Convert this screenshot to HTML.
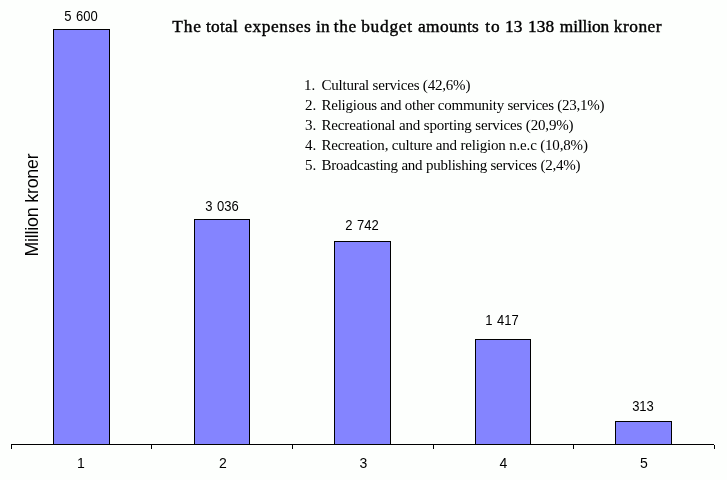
<!DOCTYPE html>
<html>
<head>
<meta charset="utf-8">
<title>Expenses chart</title>
<style>
html,body{margin:0;padding:0;background:#fdfffd;}
body{width:727px;height:480px;position:relative;overflow:hidden;font-family:"Liberation Sans",sans-serif;color:#000;}
.bar{position:absolute;box-sizing:border-box;background:#8484ff;border:1px solid #000;}
.axis{position:absolute;background:#000;}
.val{position:absolute;font-size:14px;transform:scaleX(0.93);word-spacing:0.8px;line-height:14px;height:14px;white-space:nowrap;text-align:center;width:80px;}
.cat{position:absolute;font-size:14px;line-height:14px;height:14px;white-space:nowrap;text-align:center;width:40px;}
#title{position:absolute;left:0;top:17px;width:727px;height:20px;font-family:"Liberation Serif",serif;font-weight:normal;font-size:17.33px;line-height:20px;white-space:nowrap;-webkit-text-stroke:0.4px #000;}
#title span{position:absolute;top:0;}
.leg{position:absolute;left:305px;font-family:"Liberation Serif",serif;font-size:15px;line-height:20px;height:20px;white-space:pre;}
.leg b{font-weight:normal;position:absolute;left:16.5px;top:0;text-indent:0;}
#ylab{position:absolute;left:0;top:0;font-size:17.8px;line-height:17px;letter-spacing:-0.2px;white-space:nowrap;transform-origin:0 0;transform:translate(24px,256.5px) rotate(-90deg);}
</style>
</head>
<body>
<div id="title"><span style="left:172.2px;letter-spacing:0.95px">The</span> <span style="left:205.9px;letter-spacing:0.275px">total</span> <span style="left:244.3px;letter-spacing:0.543px">expenses</span> <span style="left:315.9px;letter-spacing:0.4px">in</span> <span style="left:333.7px;letter-spacing:0.65px">the</span> <span style="left:361.2px;letter-spacing:0.74px">budget</span> <span style="left:418.05px;letter-spacing:0.342px">amounts</span> <span style="left:485.2px;letter-spacing:1.0px">to</span> <span style="left:505.0px;letter-spacing:0.1px">13</span> <span style="left:527.9px;letter-spacing:0.2px">138</span> <span style="left:559.8px;letter-spacing:-0.1px">million</span> <span style="left:613.8px;letter-spacing:0.5px">kroner</span></div>

<div class="leg" id="l1" style="top:75px;text-indent:-1px">1. <b id="n1" style="letter-spacing:-0.2px">Cultural services (42,6%)</b></div>
<div class="leg" id="l2" style="top:95px">2. <b id="n2" style="letter-spacing:-0.245px">Religious and other community services (23,1%)</b></div>
<div class="leg" id="l3" style="top:115px">3. <b id="n3" style="letter-spacing:-0.16px">Recreational and sporting services (20,9%)</b></div>
<div class="leg" id="l4" style="top:135px">4. <b id="n4" style="letter-spacing:-0.18px">Recreation, culture and religion n.e.c (10,8%)</b></div>
<div class="leg" id="l5" style="top:155px">5. <b id="n5" style="letter-spacing:-0.23px">Broadcasting and publishing services (2,4%)</b></div>

<div id="ylab">Million kroner</div>

<div class="bar" style="left:53px;top:29px;width:57px;height:416px"></div>
<div class="bar" style="left:194px;top:219px;width:56px;height:226px"></div>
<div class="bar" style="left:334px;top:241px;width:57px;height:204px"></div>
<div class="bar" style="left:475px;top:339px;width:56px;height:106px"></div>
<div class="bar" style="left:615px;top:421px;width:57px;height:24px"></div>

<div class="val" id="v1" style="left:41px;top:9px">5 600</div>
<div class="val" id="v2" style="left:182px;top:199px">3 036</div>
<div class="val" id="v3" style="left:322px;top:218px">2 742</div>
<div class="val" id="v4" style="left:462px;top:313px">1 417</div>
<div class="val" id="v5" style="left:603px;top:399px">313</div>

<div class="axis" style="left:11px;top:444px;width:703px;height:1px"></div>
<div class="axis" style="left:11px;top:444px;width:1px;height:5px"></div>
<div class="axis" style="left:151px;top:444px;width:1px;height:5px"></div>
<div class="axis" style="left:292px;top:444px;width:1px;height:5px"></div>
<div class="axis" style="left:433px;top:444px;width:1px;height:5px"></div>
<div class="axis" style="left:573px;top:444px;width:1px;height:5px"></div>
<div class="axis" style="left:714px;top:445px;width:1px;height:4px"></div>

<div class="cat" id="c1" style="left:61px;top:456px">1</div>
<div class="cat" id="c2" style="left:203px;top:456px">2</div>
<div class="cat" id="c3" style="left:343.5px;top:456px">3</div>
<div class="cat" id="c4" style="left:483.5px;top:456px">4</div>
<div class="cat" id="c5" style="left:624px;top:456px">5</div>
</body>
</html>
